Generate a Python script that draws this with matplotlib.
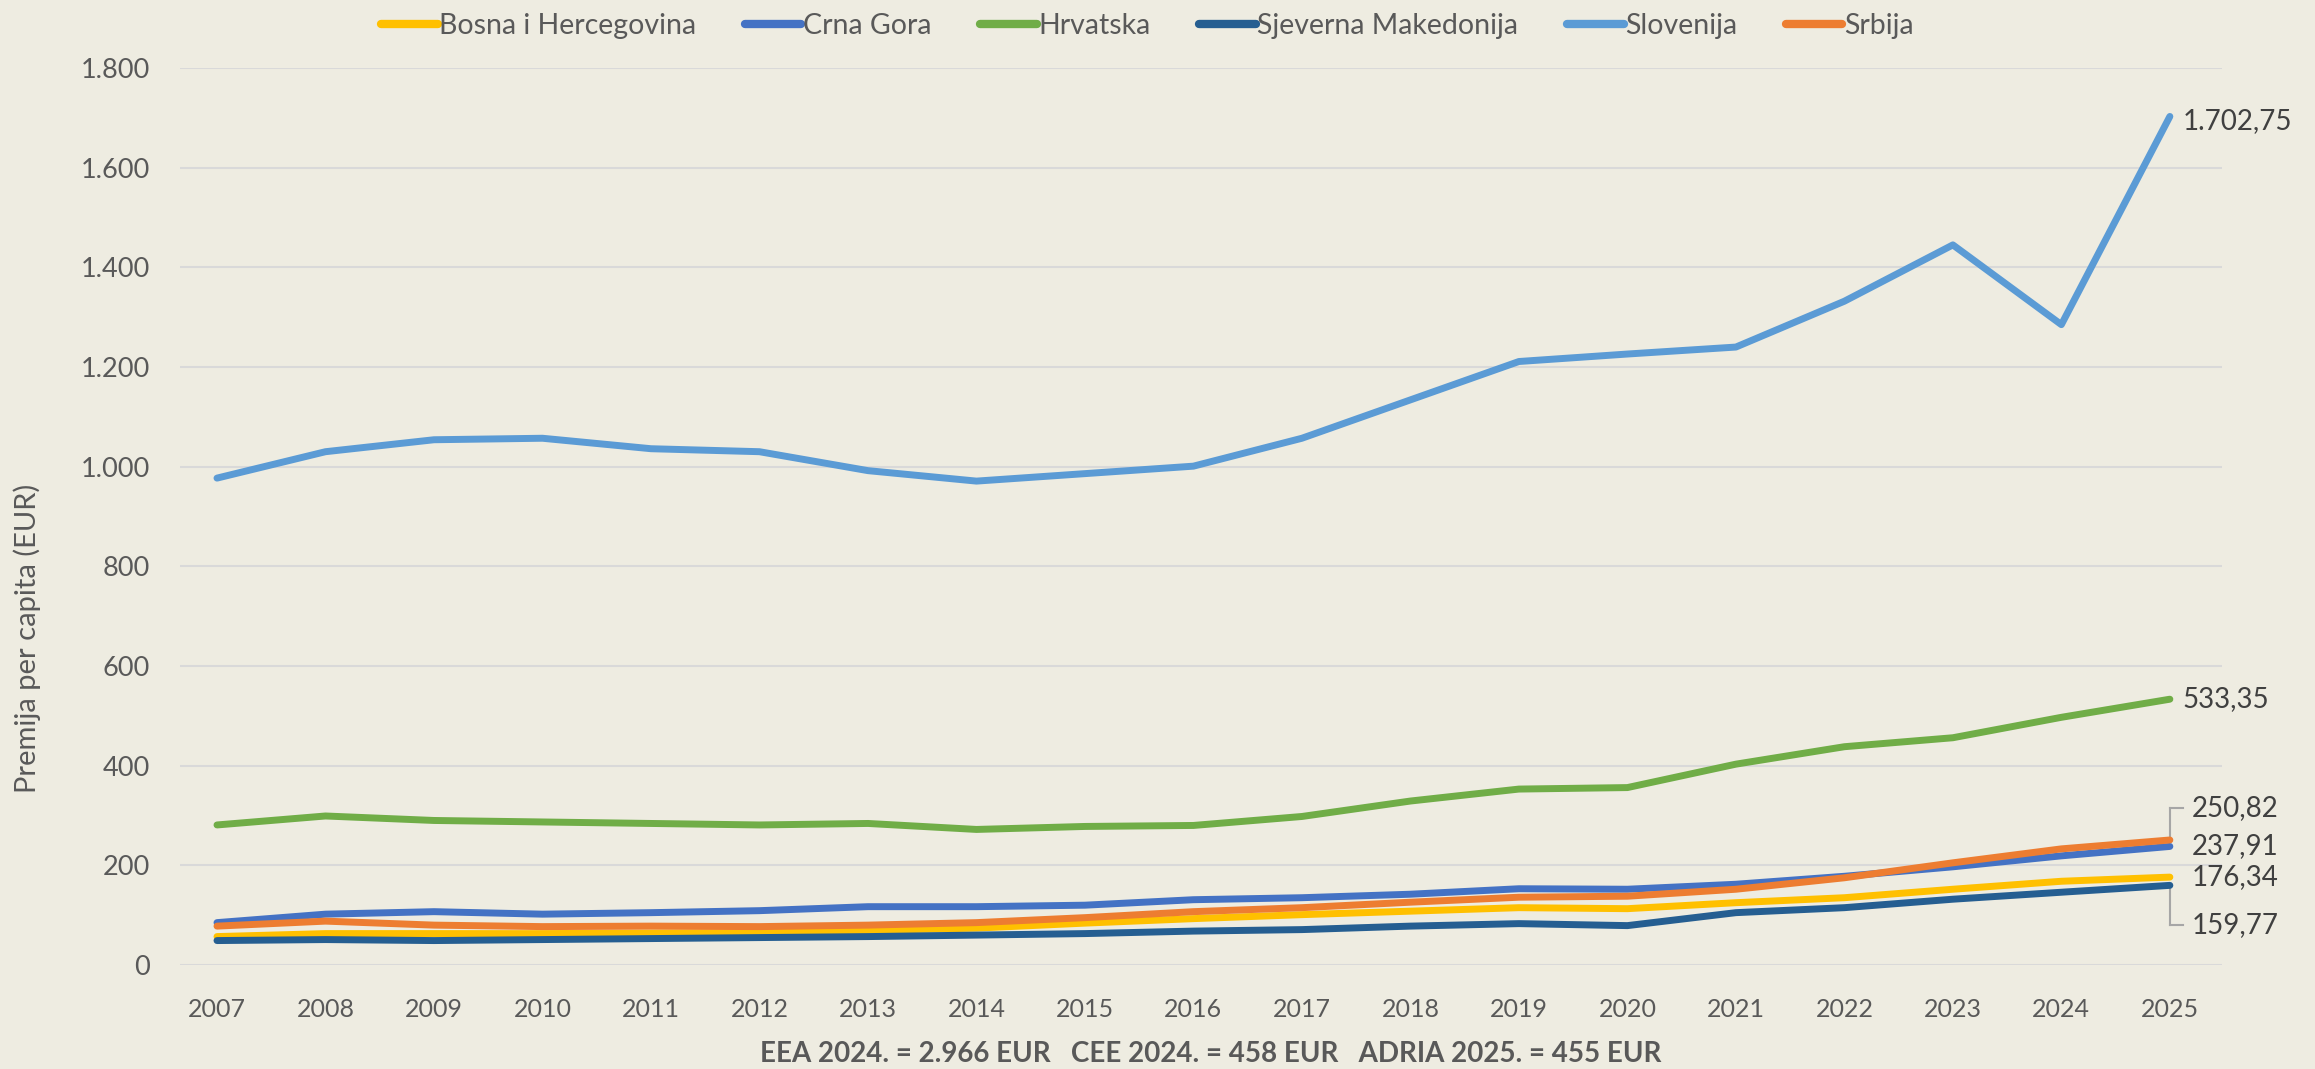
import numpy as np
import matplotlib.pyplot as plt

plt.rcParams['font.family'] = ['Lato', 'DejaVu Sans']

# podaci
godine = [str(g) for g in range(2007, 2026)]

bosna = [57, 63, 63, 63, 64, 65, 69, 74, 84, 93, 101, 108, 115, 113, 125, 135, 152, 168, 176.34]
crna_gora = [85, 102, 107, 102, 105, 109, 117, 117, 120, 131, 135, 142, 153, 152, 162, 178, 197, 219, 237.91]
hrvatska = [281, 299, 290, 287, 284, 281, 284, 272, 278, 280, 298, 329, 353, 356, 403, 438, 456, 497, 533.35]
makedonija = [49, 51, 49, 51, 53, 55, 57, 60, 63, 68, 71, 78, 83, 79, 105, 115, 132, 146, 159.77]
slovenija = [977, 1030, 1054, 1057, 1036, 1030, 992, 971, 986, 1001, 1057, 1134, 1211, 1226, 1240, 1332, 1445, 1285, 1702.75]
srbija = [78, 88, 80, 77, 78, 77, 80, 85, 95, 107, 115, 126, 136, 138, 152, 175, 205, 233, 250.82]

serije = [
    ('Bosna i Hercegovina', bosna, '#FFC000'),
    ('Crna Gora', crna_gora, '#4472C4'),
    ('Hrvatska', hrvatska, '#70AD47'),
    ('Sjeverna Makedonija', makedonija, '#255E91'),
    ('Slovenija', slovenija, '#5B9BD5'),
    ('Srbija', srbija, '#ED7D31'),
]

bg = '#EEECE1'
txt = '#595959'
lbl = '#404040'

fig = plt.figure(figsize=(23.15, 10.69), dpi=100, facecolor=bg)
ax = fig.add_axes([0.0778, 0.0973, 0.882, 0.8391], facecolor=bg)

x = np.arange(len(godine))
for ime, vrijednosti, boja in serije:
    ax.plot(x, vrijednosti, color=boja, lw=5, solid_capstyle='round',
            solid_joinstyle='round', label=ime)

ax.set_xlim(-0.34, 18.48)
ax.set_ylim(0, 1800)
ax.set_yticks(np.arange(0, 1801, 200))
ax.set_yticklabels([f'{v:,}'.replace(',', '.') for v in range(0, 1801, 200)])
ax.set_xticks(x)
ax.set_xticklabels(godine)
ax.grid(axis='y', color='#D9D9D9', lw=1.5)
ax.set_axisbelow(True)
for s in ax.spines.values():
    s.set_visible(False)
ax.tick_params(length=0, colors=txt)
ax.tick_params(axis='y', labelsize=19.5, pad=22)
ax.tick_params(axis='x', labelsize=18, pad=24)

# oznake zadnjih vrijednosti
def fmt(v):
    s = f'{v:,.2f}'
    return s.replace(',', 'X').replace('.', ',').replace('X', '.')

zadnji = x[-1]
ax.annotate(fmt(slovenija[-1]), (zadnji, slovenija[-1]), xytext=(13, -5),
            textcoords='offset pixels', va='center', fontsize=20, color=lbl)
ax.annotate(fmt(hrvatska[-1]), (zadnji, hrvatska[-1]), xytext=(13, 0),
            textcoords='offset pixels', va='center', fontsize=20, color=lbl)
ax.annotate(fmt(crna_gora[-1]), (zadnji, crna_gora[-1]), xytext=(22, 0),
            textcoords='offset pixels', va='center', fontsize=20, color=lbl)
ax.annotate(fmt(bosna[-1]), (zadnji, bosna[-1]), xytext=(22, 0),
            textcoords='offset pixels', va='center', fontsize=20, color=lbl)

# oznake s linijama
for v, dy in [(srbija[-1], 32), (makedonija[-1], -40)]:
    ax.annotate(fmt(v), (zadnji, v), xytext=(22, dy), textcoords='offset pixels',
                va='center', fontsize=20, color=lbl)
    y1 = v + dy / 0.4983
    ax.plot([zadnji, zadnji], [v, y1], color='#A6A6A6', lw=1.5, zorder=1)
    ax.plot([zadnji, zadnji + 0.12], [y1, y1], color='#A6A6A6', lw=1.5, zorder=1)

fig.text(0.0117, 0.403, 'Premija per capita (EUR)', rotation=90, va='center',
         ha='center', fontsize=21, color=txt)

leg = fig.legend(loc='upper center', bbox_to_anchor=(0.4955, 1.012), ncol=6,
                 frameon=False, fontsize=20.5, handlelength=2.0, handletextpad=0.05,
                 columnspacing=1.7, labelcolor=txt)
for h in leg.get_lines():
    h.set_linewidth(6)

fig.text(0.523, 0.014, 'EEA 2024. = 2.966 EUR   CEE 2024. = 458 EUR   ADRIA 2025. = 455 EUR',
         ha='center', va='center', fontsize=20, fontweight='bold', color=txt)

fig.savefig('out.png', dpi=100, facecolor=bg)
